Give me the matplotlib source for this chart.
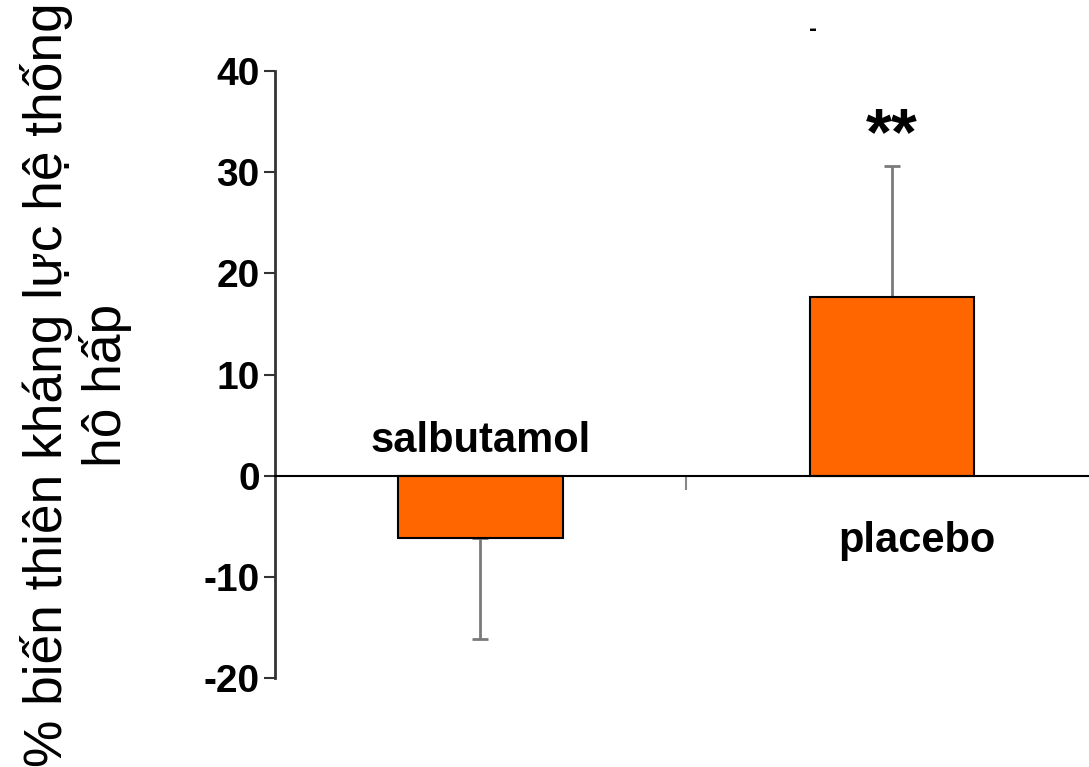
import matplotlib.pyplot as plt

# data
groups = ['salbutamol', 'placebo']
means = [-6.2, 17.7]
err_down = [9.9, 0]
err_up = [0, 12.9]
yticks = [-20, -10, 0, 10, 20, 30, 40]

fig = plt.figure(figsize=(10.89, 7.67), dpi=100)
ax = fig.add_axes([0.2525, 0.116, 0.7475, 0.7914])

x = [0, 1]
ax.bar(x, means, width=0.40, color='#FF6600', edgecolor='black', linewidth=1.5, zorder=2)
ax.errorbar(x, means, yerr=[err_down, err_up], fmt='none', ecolor='#7a7a7a',
            elinewidth=2, capsize=6, capthick=2, zorder=1)

ax.set_xlim(-0.498, 1.478)
ax.set_ylim(-20, 40)

# spines: left axis + zero line as the bottom spine
for s in ['top', 'right']:
    ax.spines[s].set_visible(False)
ax.spines['left'].set_color('#333333')
ax.spines['left'].set_linewidth(2)
ax.spines['bottom'].set_position(('data', 0))
ax.spines['bottom'].set_linewidth(1.5)

ax.set_yticks(yticks)
ax.set_yticklabels([str(t) for t in yticks], fontsize=28, fontweight='bold',
                   family=['Liberation Sans', 'DejaVu Sans'])
ax.tick_params(axis='y', length=8, width=1.5, color='#333333', pad=3)
ax.set_xticks([0.5])
ax.set_xticklabels([''])
ax.tick_params(axis='x', length=10, width=1.5, color='#888888')

lab = dict(fontsize=30, fontweight='bold', family=['Liberation Sans', 'DejaVu Sans'])
ax.text(0, 3.4, groups[0], ha='center', va='center', **lab)
ax.text(1.06, -6.5, groups[1], ha='center', va='center', **lab)
ax.text(1.0, 31.8, '**', ha='center', va='baseline', fontsize=48, fontweight='bold',
        family=['Liberation Sans', 'DejaVu Sans'])

fig.text(0.7466, 0.961, '-', ha='center', va='center', fontsize=14, fontweight='bold')

fig.text(0.07, 0.498, '% biến thiên kháng lực hệ thống\nhô hấp', rotation=90,
         ha='center', va='center', multialignment='center', fontsize=38.3,
         family=['Liberation Sans', 'DejaVu Sans'], linespacing=1.14)

fig.savefig('out.png', dpi=100)
